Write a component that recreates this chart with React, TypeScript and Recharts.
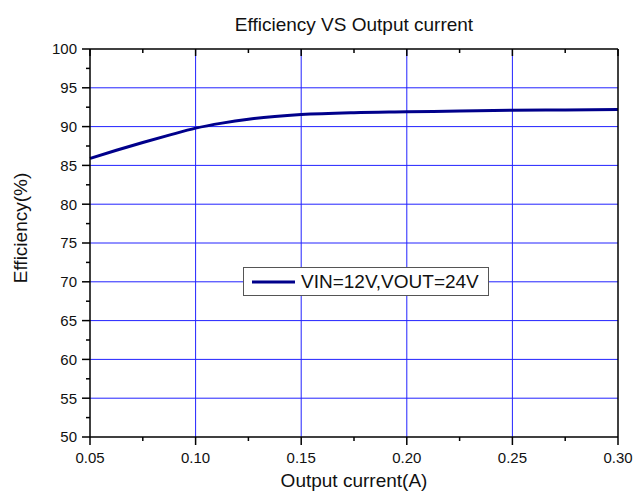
import { LineChart, Line, XAxis, YAxis, CartesianGrid, Legend } from "recharts";

const FONT = "'Liberation Sans', Arial, Helvetica, sans-serif";

// output current (A) and efficiency (%)
const current = [0.05, 0.0625, 0.075, 0.0875, 0.1, 0.1125, 0.125, 0.1375, 0.15, 0.175, 0.2, 0.225, 0.25, 0.275, 0.3];
const efficiency = [85.9, 86.95, 87.95, 88.9, 89.8, 90.45, 90.95, 91.3, 91.55, 91.8, 91.9, 92.0, 92.1, 92.15, 92.2];

const xTicks = [0.05, 0.075, 0.1, 0.125, 0.15, 0.175, 0.2, 0.225, 0.25, 0.275, 0.3];
const yTicks = [50, 52.5, 55, 57.5, 60, 62.5, 65, 67.5, 70, 72.5, 75, 77.5, 80, 82.5, 85, 87.5, 90, 92.5, 95, 97.5, 100];
const xGrid = [0.1, 0.15, 0.2, 0.25];
const yGrid = [55, 60, 65, 70, 75, 80, 85, 90, 95];

const seriesName = "VIN=12V,VOUT=24V";
const lineColor = "#00008B";

const data = current.map((c, i) => ({ current: c, eff: efficiency[i] }));

const isMajorX = (v: number) => Math.abs(v * 20 - Math.round(v * 20)) < 1e-6;
const isMajorY = (v: number) => v % 5 === 0;

function BottomTick({ x, y, payload }: any) {
  const major = isMajorX(payload.value);
  return (
    <g>
      <line x1={x} y1={y} x2={x} y2={y + (major ? 8 : 4)} stroke="#000" strokeWidth={1.5} />
      {major && (
        <text x={x} y={y + 26} textAnchor="middle" fontSize={15} fill="#111" fontFamily={FONT}>
          {payload.value.toFixed(2)}
        </text>
      )}
    </g>
  );
}

function TopTick({ x, y, payload }: any) {
  const major = isMajorX(payload.value);
  return <line x1={x} y1={y} x2={x} y2={y + (major ? 7 : 4)} stroke="#000" strokeWidth={1.5} />;
}

function LeftTick({ x, y, payload }: any) {
  const major = isMajorY(payload.value);
  return (
    <g>
      <line x1={x} y1={y} x2={x - (major ? 8 : 4)} y2={y} stroke="#000" strokeWidth={1.5} />
      {major && (
        <text x={x - 13} y={y + 5.3} textAnchor="end" fontSize={15} fill="#111" fontFamily={FONT}>
          {payload.value}
        </text>
      )}
    </g>
  );
}

function RightTick({ x, y, payload }: any) {
  const major = isMajorY(payload.value);
  return <line x1={x} y1={y} x2={x - (major ? 7 : 4)} y2={y} stroke="#000" strokeWidth={1.5} />;
}

function LegendBox() {
  return (
    <div
      style={{
        boxSizing: "border-box",
        width: 246,
        height: 29,
        border: "1px solid #555",
        background: "#fff",
        display: "flex",
        alignItems: "center",
        fontFamily: FONT,
      }}
    >
      <svg width={52} height={27} style={{ display: "block" }}>
        <line x1={8} y1={14} x2={51} y2={14} stroke={lineColor} strokeWidth={3} />
      </svg>
      <span style={{ fontSize: 19, marginLeft: 5, color: "#111", lineHeight: "27px" }}>{seriesName}</span>
    </div>
  );
}

export default function App() {
  return (
    <div style={{ position: "absolute", left: 0, top: 0, width: 635, height: 496, background: "#fff", fontFamily: FONT }}>
      <LineChart width={635} height={496} data={data} margin={{ top: 0, right: 0, bottom: 0, left: 0 }}>
        <CartesianGrid
          stroke="#2222ff"
          strokeWidth={1}
          horizontalValues={yGrid}
          verticalValues={xGrid}
        />
        <XAxis
          dataKey="current"
          type="number"
          domain={[0.05, 0.3]}
          ticks={xTicks}
          interval={0}
          height={59}
          tickSize={0}
          tickMargin={0}
          tickLine={false}
          axisLine={{ stroke: "#000", strokeWidth: 1.5 }}
          tick={<BottomTick />}
          label={{
            content: ({ viewBox }: any) => (
              <text x={viewBox.x + viewBox.width / 2} y={viewBox.y + 50} textAnchor="middle" fontSize={19} fill="#111" fontFamily={FONT}>
                Output current(A)
              </text>
            ),
          }}
        />
        <XAxis
          xAxisId="top"
          orientation="top"
          dataKey="current"
          type="number"
          domain={[0.05, 0.3]}
          ticks={xTicks}
          interval={0}
          height={49}
          tickSize={0}
          tickMargin={0}
          tickLine={false}
          axisLine={{ stroke: "#000", strokeWidth: 1.5 }}
          tick={<TopTick />}
          label={{
            content: ({ viewBox }: any) => (
              <text x={viewBox.x + viewBox.width / 2} y={viewBox.y + 31} textAnchor="middle" fontSize={19} fill="#111" fontFamily={FONT}>
                Efficiency VS Output current
              </text>
            ),
          }}
        />
        <YAxis
          type="number"
          domain={[50, 100]}
          ticks={yTicks}
          interval={0}
          width={90}
          tickSize={0}
          tickMargin={0}
          tickLine={false}
          axisLine={{ stroke: "#000", strokeWidth: 1.5 }}
          tick={<LeftTick />}
          label={{
            content: ({ viewBox }: any) => {
              const cx = viewBox.x + 27;
              const cy = viewBox.y + viewBox.height / 2 - 15;
              return (
                <text x={cx} y={cy} transform={`rotate(-90, ${cx}, ${cy})`} textAnchor="middle" fontSize={19} fill="#111" fontFamily={FONT}>
                  Efficiency(%)
                </text>
              );
            },
          }}
        />
        <YAxis
          yAxisId="right"
          orientation="right"
          type="number"
          domain={[50, 100]}
          ticks={yTicks}
          interval={0}
          width={17}
          tickSize={0}
          tickMargin={0}
          tickLine={false}
          axisLine={{ stroke: "#000", strokeWidth: 1.5 }}
          tick={<RightTick />}
        />
        <Legend
          layout="horizontal"
          verticalAlign="middle"
          align="center"
          wrapperStyle={{ left: 243, top: 267, width: 246, height: 29 }}
          content={() => <LegendBox />}
        />
        <Line
          type="monotone"
          dataKey="eff"
          name={seriesName}
          stroke={lineColor}
          strokeWidth={3}
          dot={false}
          activeDot={false}
          isAnimationActive={false}
        />
      </LineChart>
    </div>
  );
}
